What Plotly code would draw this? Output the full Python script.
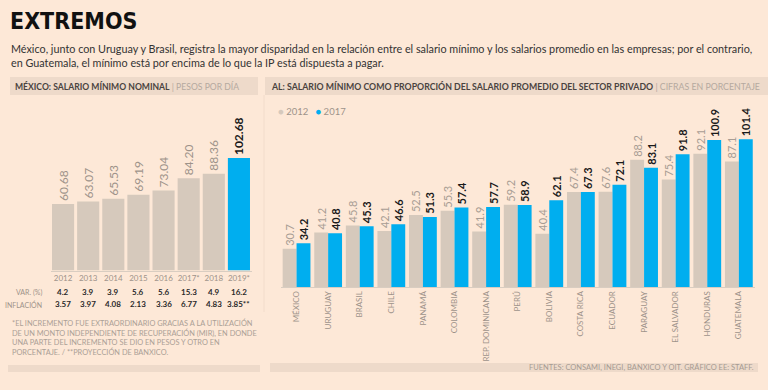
import plotly.graph_objects as go

# ---------------- data ----------------
years = ["2012", "2013", "2014", "2015", "2016", "2017*", "2018", "2019*"]
salario = [60.68, 63.07, 65.53, 69.19, 73.04, 84.20, 88.36, 102.68]
var_pct = ["4.2", "3.9", "3.9", "5.6", "5.6", "15.3", "4.9", "16.2"]
inflacion = ["3.57", "3.97", "4.08", "2.13", "3.36", "6.77", "4.83", "3.85**"]

paises = ["MÉXICO", "URUGUAY", "BRASIL", "CHILE", "PANAMÁ", "COLOMBIA",
          "REP. DOMINICANA", "PERÚ", "BOLIVIA", "COSTA RICA", "ECUADOR",
          "PARAGUAY", "EL SALVADOR", "HONDURAS", "GUATEMALA"]
v2012 = [30.7, 41.2, 45.8, 42.1, 52.5, 55.3, 41.9, 59.2, 40.4, 67.4, 67.6, 88.2, 75.4, 92.1, 87.1]
v2017 = [34.2, 40.8, 45.3, 46.6, 51.3, 57.4, 57.7, 58.9, 62.1, 67.3, 72.1, 83.1, 91.8, 100.9, 101.4]

# ---------------- style ----------------
W, H = 768, 390
BG = "#FDE8D7"
GRAY_BAR = "#D6C9BC"
BLUE = "#00AEEF"
BOX = "#EEDACA"
TXT_GRAY = "#9E938A"
FONT = "Lato"
COND = "DejaVu Sans Condensed"


def px(x):
    return x / W


def py(y):
    return 1 - y / H


fig = go.Figure()

# left chart (positions are category indices, labelled with the years)
idx = list(range(len(years)))
left_colors = [GRAY_BAR] * (len(salario) - 1) + [BLUE]
left_text = [f"{v:.2f}" for v in salario[:-1]] + [f"<b>{salario[-1]:.2f}</b>"]
left_tcol = [TXT_GRAY] * (len(salario) - 1) + ["#1a1a1a"]
fig.add_trace(go.Bar(
    x=idx, y=salario, marker_color=left_colors, marker_line_width=0,
    text=left_text, textposition="outside", textangle=-90,
    textfont=dict(family=FONT, size=12, color=left_tcol),
    constraintext="none", cliponaxis=False, showlegend=False,
    hovertext=years, xaxis="x", yaxis="y"))

# right chart
fig.add_trace(go.Bar(
    x=paises, y=v2012, name="2012", marker_color=GRAY_BAR, marker_line_width=0,
    text=[f"{v:.1f}" for v in v2012], textposition="outside", textangle=-90,
    textfont=dict(family=FONT, size=11, color="#A89D94"),
    constraintext="none", cliponaxis=False, showlegend=False,
    xaxis="x2", yaxis="y2"))
fig.add_trace(go.Bar(
    x=paises, y=v2017, name="2017", marker_color=BLUE, marker_line_width=0,
    text=[f"<b>{v:.1f}</b>" for v in v2017], textposition="outside", textangle=-90,
    textfont=dict(family=FONT, size=11, color="#1a1a1a"),
    constraintext="none", cliponaxis=False, showlegend=False,
    xaxis="x2", yaxis="y2"))

LINE = "#D9CDC1"
fig.update_layout(
    width=W, height=H, margin=dict(l=0, r=0, t=0, b=0),
    paper_bgcolor=BG, plot_bgcolor=BG,
    barmode="group", bargap=0.12, bargroupgap=0,
    font=dict(family=FONT, color=TXT_GRAY),
    xaxis=dict(type="linear", domain=[px(50.5), px(251.5)], anchor="y",
               range=[-0.5, len(years) - 0.5], autorange=False,
               tickvals=idx, ticktext=years, showgrid=False, zeroline=False,
               showline=True, linecolor=LINE, linewidth=1, ticks="",
               tickfont=dict(size=8, color=TXT_GRAY, family=FONT), fixedrange=True,
               automargin=False),
    yaxis=dict(domain=[py(270.5), py(270.5 - 130 * 1.095)], range=[0, 130],
               visible=False, fixedrange=True),
    xaxis2=dict(type="category", domain=[px(280.75), px(754.65)], anchor="y2", showgrid=False,
                showline=True, linecolor=LINE, linewidth=1, ticks="",
                tickangle=-90, tickfont=dict(size=8, color=TXT_GRAY, family=FONT),
                fixedrange=True, automargin=False),
    yaxis2=dict(domain=[py(287), py(287 - 104 * 1.548)], range=[6, 110],
                visible=False, fixedrange=True),
)

shapes = [
    dict(type="rect", xref="paper", yref="paper", x0=px(10), x1=px(258),
         y0=py(95), y1=py(77), fillcolor=BOX, line_width=0, layer="below"),
    dict(type="rect", xref="paper", yref="paper", x0=px(265), x1=px(768),
         y0=py(95), y1=py(77), fillcolor=BOX, line_width=0, layer="below"),
    dict(type="rect", xref="paper", yref="paper", x0=px(8), x1=px(260),
         y0=py(372), y1=py(365), fillcolor=BOX, line_width=0, layer="below"),
    dict(type="rect", xref="paper", yref="paper", x0=px(270), x1=px(758),
         y0=py(372), y1=py(363), fillcolor=BOX, line_width=0, layer="below"),
    dict(type="line", xref="paper", yref="paper", x0=px(264), x1=px(264),
         y0=py(95), y1=py(312), line=dict(color="#F2DCCB", width=1)),
]

ann = []
ann.append(dict(text="<b>EXTREMOS</b>", x=px(8), y=py(21), xref="paper", yref="paper",
                xanchor="left", yanchor="middle", showarrow=False,
                font=dict(family=COND, size=23, color="#111111")))
ann.append(dict(text="México, junto con Uruguay y Brasil, registra la mayor disparidad en la relación entre el salario mínimo y los salarios promedio en las empresas; por el contrario,<br>en Guatemala, el mínimo está por encima de lo que la IP está dispuesta a pagar.",
                x=px(9), y=py(56), xref="paper", yref="paper", align="left",
                xanchor="left", yanchor="middle", showarrow=False,
                font=dict(family=FONT, size=10.8, color="#333333")))
ann.append(dict(text="<b>MÉXICO: SALARIO MÍNIMO NOMINAL</b> <span style='color:#B5A99F'>| PESOS POR DÍA</span>",
                x=px(13), y=py(86), xref="paper", yref="paper",
                xanchor="left", yanchor="middle", showarrow=False,
                font=dict(family=FONT, size=8.6, color="#4a4340")))
ann.append(dict(text="<b>AL: SALARIO MÍNIMO COMO PROPORCIÓN DEL SALARIO PROMEDIO DEL SECTOR PRIVADO</b> <span style='color:#B5A99F'>| CIFRAS EN PORCENTAJE</span>",
                x=px(269), y=py(86), xref="paper", yref="paper",
                xanchor="left", yanchor="middle", showarrow=False,
                font=dict(family=FONT, size=8.75, color="#4a4340")))
# legend
ann.append(dict(text=f"<span style='color:{GRAY_BAR}'>●</span> 2012   <span style='color:{BLUE}'>●</span> 2017",
                x=px(276), y=py(112), xref="paper", yref="paper",
                xanchor="left", yanchor="middle", showarrow=False,
                font=dict(family=FONT, size=9.5, color=TXT_GRAY)))
# table rows
ann.append(dict(text="VAR. (%)", x=px(44), y=py(292), xref="paper", yref="paper",
                xanchor="right", yanchor="middle", showarrow=False,
                font=dict(family=FONT, size=7, color=TXT_GRAY)))
ann.append(dict(text="INFLACIÓN", x=px(44), y=py(304), xref="paper", yref="paper",
                xanchor="right", yanchor="middle", showarrow=False,
                font=dict(family=FONT, size=7, color=TXT_GRAY)))
for i, v, inf in zip(idx, var_pct, inflacion):
    ann.append(dict(text=f"<b>{v}</b>", x=i, y=py(292), xref="x", yref="paper",
                    xanchor="center", yanchor="middle", showarrow=False,
                    font=dict(family=FONT, size=8, color="#2a2a2a")))
    ann.append(dict(text=f"<b>{inf}</b>", x=i, y=py(304), xref="x", yref="paper",
                    xanchor="center", yanchor="middle", showarrow=False,
                    font=dict(family=FONT, size=8, color="#2a2a2a")))
ann.append(dict(text="*EL INCREMENTO FUE EXTRAORDINARIO GRACIAS A LA UTILIZACIÓN<br>DE UN MONTO INDEPENDIENTE DE RECUPERACIÓN (MIR), EN DONDE<br>UNA PARTE DEL INCREMENTO SE DIO EN PESOS Y OTRO EN<br>PORCENTAJE. / **PROYECCIÓN DE BANXICO.",
                x=px(10), y=py(316), xref="paper", yref="paper", align="left",
                xanchor="left", yanchor="top", showarrow=False,
                font=dict(family=FONT, size=7.4, color="#ABA096")))
ann.append(dict(text="FUENTES: CONSAMI, INEGI, BANXICO Y OIT. GRÁFICO EE: STAFF.",
                x=px(756), y=py(367.5), xref="paper", yref="paper",
                xanchor="right", yanchor="middle", showarrow=False,
                font=dict(family=FONT, size=7.5, color="#A69B92")))

fig.update_layout(shapes=shapes, annotations=ann)
fig.write_html("out.html", config={"displayModeBar": False},
               post_script="document.body.style.margin='0';document.body.style.background='" + BG + "';")
